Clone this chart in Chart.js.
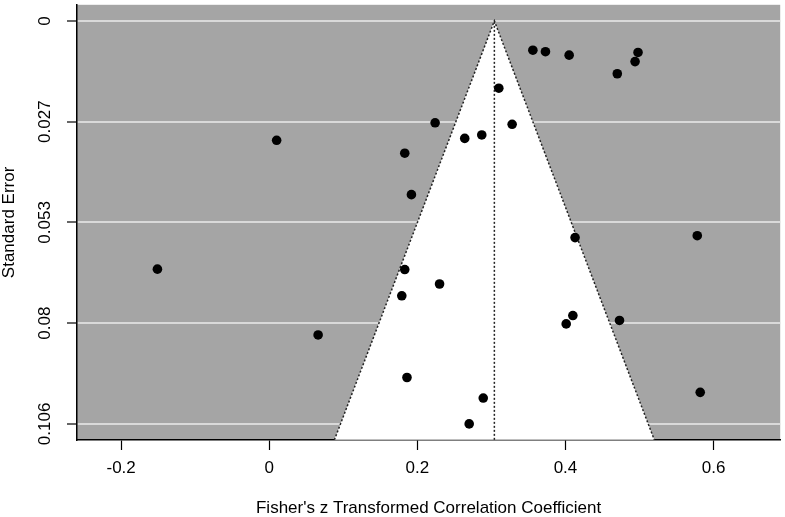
<!DOCTYPE html>
<html>
<head>
<meta charset="utf-8">
<script src="https://cdn.jsdelivr.net/npm/chart.js@4.4.1/dist/chart.umd.min.js"></script>
<style>
  body { margin: 0; background: #fff; }
  #wrap { width: 785px; height: 517px; }
</style>
</head>
<body>
<div id="wrap"><canvas id="funnel" width="785" height="517"></canvas></div>
<script>
// study estimates (Fisher's z) and their standard errors
const effectZ = [0.356, 0.373, 0.405, 0.498, 0.494, 0.470, 0.310, 0.224, 0.328, 0.287,
                 0.264, 0.183, 0.010, 0.192, 0.413, 0.578, -0.151, 0.183, 0.230, 0.179,
                 0.410, 0.401, 0.473, 0.066, 0.186, 0.289, 0.582, 0.270];
const stdErr = [0.0077, 0.0081, 0.0090, 0.0083, 0.0107, 0.0139, 0.0177, 0.0268, 0.0272, 0.0300,
                0.0309, 0.0348, 0.0314, 0.0457, 0.0570, 0.0565, 0.0653, 0.0654, 0.0692, 0.0723,
                0.0775, 0.0797, 0.0788, 0.0826, 0.0938, 0.0992, 0.0977, 0.1060];

// pooled estimate and the funnel outline (lower bound, apex, upper bound)
const pooled = 0.304;
const funnelX = [0.088, 0.304, 0.520];
const funnelSE = [0.1102, 0, 0.1102];

// axis ticks
const xTicks = [-0.2, 0, 0.2, 0.4, 0.6];
const yTicks = [0, 0.0265, 0.053, 0.0795, 0.106];
const yTickLabels = ['0', '0.027', '0.053', '0.08', '0.106'];

const FONT = 'Liberation Sans, Arial, sans-serif';
const FSIZE = 17;

const points = effectZ.map((x, i) => ({ x: x, y: stdErr[i] }));
const funnel = funnelX.map((x, i) => ({ x: x, y: funnelSE[i] }));
const midLine = [{ x: pooled, y: funnelSE[0] }, { x: pooled, y: 0 }];

// grey panel behind the grid, rotated y labels on top
const panelPlugin = {
  id: 'panel',
  beforeDraw(chart) {
    const { ctx, chartArea: a } = chart;
    ctx.save();
    ctx.fillStyle = '#a5a5a5';
    ctx.fillRect(a.left, a.top, a.right - a.left, a.bottom - a.top);
    ctx.restore();
  },
  afterDraw(chart) {
    const { ctx } = chart;
    const ys = chart.scales.y;
    ctx.save();
    ctx.fillStyle = '#000';
    ctx.font = FSIZE + 'px ' + FONT;
    ctx.textAlign = 'center';
    ctx.textBaseline = 'middle';
    yTicks.forEach((v, i) => {
      ctx.save();
      ctx.translate(45, ys.getPixelForValue(v));
      ctx.rotate(-Math.PI / 2);
      ctx.fillText(yTickLabels[i], 0, 0);
      ctx.restore();
    });
    ctx.restore();
  }
};

new Chart(document.getElementById('funnel'), {
  type: 'scatter',
  data: {
    datasets: [
      {
        label: 'studies',
        data: points,
        pointRadius: 4.8,
        pointHoverRadius: 4.8,
        pointBackgroundColor: '#000',
        pointBorderColor: '#000',
        pointBorderWidth: 0,
        showLine: false
      },
      {
        label: 'center',
        data: midLine,
        showLine: true,
        pointRadius: 0,
        borderColor: '#222',
        borderWidth: 1.5,
        borderDash: [2, 2],
        fill: false
      },
      {
        label: 'funnel',
        data: funnel,
        showLine: true,
        pointRadius: 0,
        borderColor: '#222',
        borderWidth: 1.5,
        borderDash: [2, 2],
        backgroundColor: '#ffffff',
        fill: 'shape',
        tension: 0
      }
    ]
  },
  options: {
    responsive: false,
    animation: false,
    layout: { padding: { top: 1, right: 2, left: 0, bottom: 0 } },
    plugins: {
      legend: { display: false },
      tooltip: { enabled: false }
    },
    scales: {
      x: {
        type: 'linear',
        min: -0.2596,
        max: 0.690,
        afterFit(s) { s.height = 77; },
        afterBuildTicks(s) { s.ticks = xTicks.map(v => ({ value: v })); },
        grid: { drawOnChartArea: false, drawTicks: true, tickLength: 10, tickColor: '#000', tickWidth: 1.2 },
        border: { display: true, color: '#000', width: 1.5 },
        ticks: {
          color: '#000',
          font: { family: FONT, size: FSIZE },
          padding: 8,
          maxRotation: 0,
          callback: v => String(v)
        },
        title: {
          display: true,
          text: "Fisher's z Transformed Correlation Coefficient",
          color: '#000',
          font: { family: FONT, size: FSIZE, lineHeight: 1 },
          padding: { top: 0, bottom: 0 }
        }
      },
      y: {
        type: 'linear',
        reverse: true,
        min: -0.00424,
        max: 0.11024,
        afterFit(s) { s.width = 77; },
        afterBuildTicks(s) { s.ticks = yTicks.map(v => ({ value: v })); },
        grid: { color: '#d9d9d9', lineWidth: 2, drawTicks: true, tickLength: 10, tickColor: '#000', tickWidth: 1.2 },
        border: { display: true, color: '#000', width: 1.5 },
        ticks: { display: false },
        title: {
          display: true,
          text: 'Standard Error',
          color: '#000',
          font: { family: FONT, size: FSIZE, lineHeight: 1 },
          padding: { top: 1, bottom: 0 }
        }
      }
    }
  },
  plugins: [panelPlugin]
});
</script>
</body>
</html>
